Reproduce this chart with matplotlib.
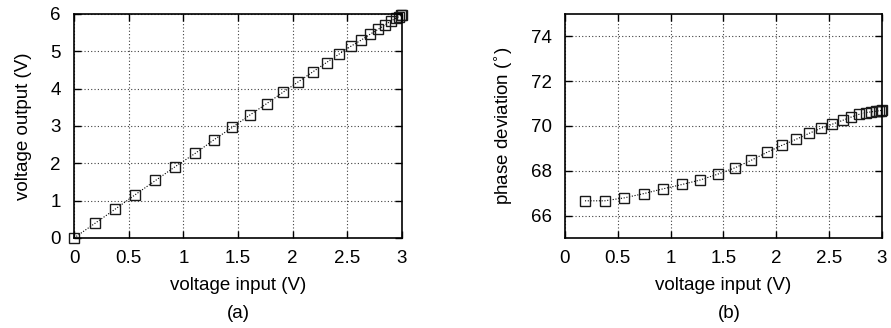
import matplotlib
matplotlib.use("Agg")
import matplotlib.pyplot as plt

plt.rcParams['font.family'] = ['Liberation Sans', 'DejaVu Sans']

# input sweep (V)
v_in = [0.0, 0.19, 0.375, 0.56, 0.745, 0.925, 1.11, 1.28, 1.447, 1.607, 1.763,
        1.91, 2.05, 2.185, 2.31, 2.422, 2.53, 2.627, 2.71, 2.783, 2.847,
        2.898, 2.942, 2.972, 2.99, 2.998]
# output voltage (V)
v_out = [0.0, 0.39, 0.77, 1.16, 1.54, 1.91, 2.27, 2.63, 2.96, 3.29, 3.6,
         3.9, 4.18, 4.45, 4.7, 4.92, 5.13, 5.3, 5.46, 5.59, 5.71,
         5.81, 5.88, 5.93, 5.96, 5.97]
# phase deviation (deg), no reading at 0 V
phase = [66.66, 66.66, 66.79, 66.98, 67.19, 67.39, 67.59, 67.85, 68.13, 68.47,
         68.82, 69.13, 69.40, 69.67, 69.90, 70.08, 70.25, 70.40, 70.52,
         70.60, 70.63, 70.66, 70.68, 70.69, 70.70]

x_ticks = [0, 0.5, 1, 1.5, 2, 2.5, 3]
x_ticklabels = ['0', '0.5', '1', '1.5', '2', '2.5', '3']

FS = 13.5

fig = plt.figure(figsize=(8.91, 3.28), dpi=100)
ax1 = fig.add_axes([0.0831, 0.2744, 0.368, 0.683])
ax2 = fig.add_axes([0.634, 0.2744, 0.3559, 0.683])

def style(ax):
    for s in ax.spines.values():
        s.set_linewidth(1.2)
    ax.tick_params(direction='in', length=5, width=1.0, top=True, right=True,
                   labelsize=FS)
    ax.tick_params(axis='x', pad=9)
    ax.tick_params(axis='y', pad=9.5)
    ax.grid(True, linestyle=(0, (1, 2)), color='0.25', linewidth=0.8)
    ax.set_axisbelow(True)
    ax.set_xlim(0, 3)
    ax.set_xticks(x_ticks)
    ax.set_xticklabels(x_ticklabels)
    ax.set_xlabel('voltage input (V)', fontsize=FS, labelpad=7)

mk = dict(color='black', linestyle=(0, (1, 1.5)), linewidth=0.8, marker='s',
          markersize=7, markerfacecolor='none', markeredgecolor='0.1',
          markeredgewidth=1.0, clip_on=False)

ax1.plot(v_in, v_out, **mk)
style(ax1)
ax1.set_ylim(0, 6)
ax1.set_yticks(range(0, 7))
ax1.set_ylabel('voltage output (V)', fontsize=FS, labelpad=13.5)

ax2.plot(v_in[1:], phase, **mk)
style(ax2)
ax2.set_ylim(65, 75)
ax2.set_yticks([66, 68, 70, 72, 74])
ax2.set_ylabel('phase deviation ($^{\\circ}$)', fontsize=FS, labelpad=12)

fig.text(0.2671, 0.045, '(a)', ha='center', va='center', fontsize=FS)
fig.text(0.819, 0.045, '(b)', ha='center', va='center', fontsize=FS)

fig.savefig('out.png', dpi=100)
